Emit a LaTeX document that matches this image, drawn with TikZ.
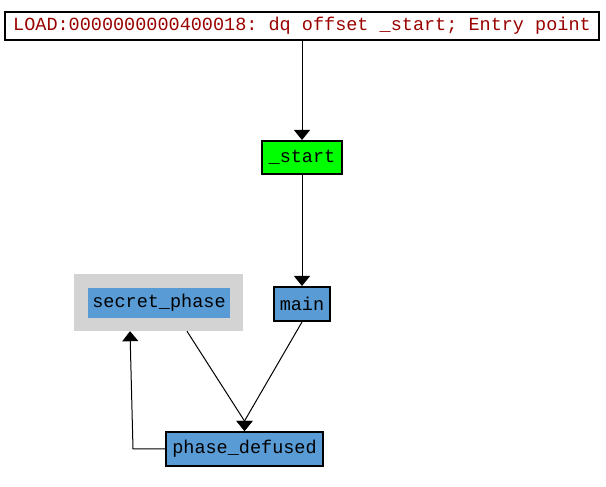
\documentclass[tikz,border=0pt]{standalone}
\usepackage{fontspec}
\setmonofont{Liberation Mono}
\usepackage{tikz}
\usetikzlibrary{arrows.meta}
\definecolor{funcblue}{RGB}{88,155,213}
\definecolor{startgreen}{RGB}{0,255,0}
\definecolor{loadred}{RGB}{153,0,0}
\definecolor{libgray}{RGB}{211,211,211}
\tikzset{
box/.style = {rectangle, draw=black, line width=0.06cm, inner sep=0pt,
              minimum height=#1, font=\ttfamily\fontsize{15.8}{18}\selectfont},
box/.default = 1cm % height of the box
}
\tikzset{
edge/.style = {line width=0.03cm, -{Triangle[width=0.48cm, length=0.3cm]}}
}

\begin{document}
\begin{tikzpicture}[x=0.03cm, y=-0.03cm]
  \useasboundingbox (0,0) rectangle (606,487);
  % Boxes
    \node[box=0.84cm, minimum width=17.82cm, text=loadred] (loadBox) at (302,26) {LOAD:0000000000400018: dq offset \_start; Entry point};
    \node[box=0.99cm, minimum width=2.37cm, fill=startgreen] (startBox) at (302,157.5) {\_start};
    \node[box=1.02cm, minimum width=1.68cm, fill=funcblue] (mainBox) at (302,304) {main};
    \node[rectangle, fill=libgray, minimum width=5.07cm, minimum height=1.71cm] (secretBg) at (158.5,302.5) {};
    \node[box=0.9cm, draw=none, minimum width=4.26cm, fill=funcblue] (secretBox) at (159,303) {secret\_phase};
    \node[box=1.02cm, minimum width=4.71cm, fill=funcblue] (defusedBox) at (244.5,449) {phase\_defused};

  % Node
    \coordinate (returnBend) at (133,449);
    \coordinate (mergeIn) at (244.5,421);

  % Lines
    \draw[edge] (loadBox) -- (startBox);
    \draw[edge] (startBox) -- (mainBox);
    \draw[edge] (mainBox.south) -- (mergeIn) -- (defusedBox.north);
    \draw[edge] ([xshift=0.855cm]secretBg.south) -- (mergeIn) -- (defusedBox.north);
    \draw[edge] (defusedBox.west) -- (returnBend) -- ([xshift=-0.855cm]secretBg.south);
\end{tikzpicture}
\end{document}
